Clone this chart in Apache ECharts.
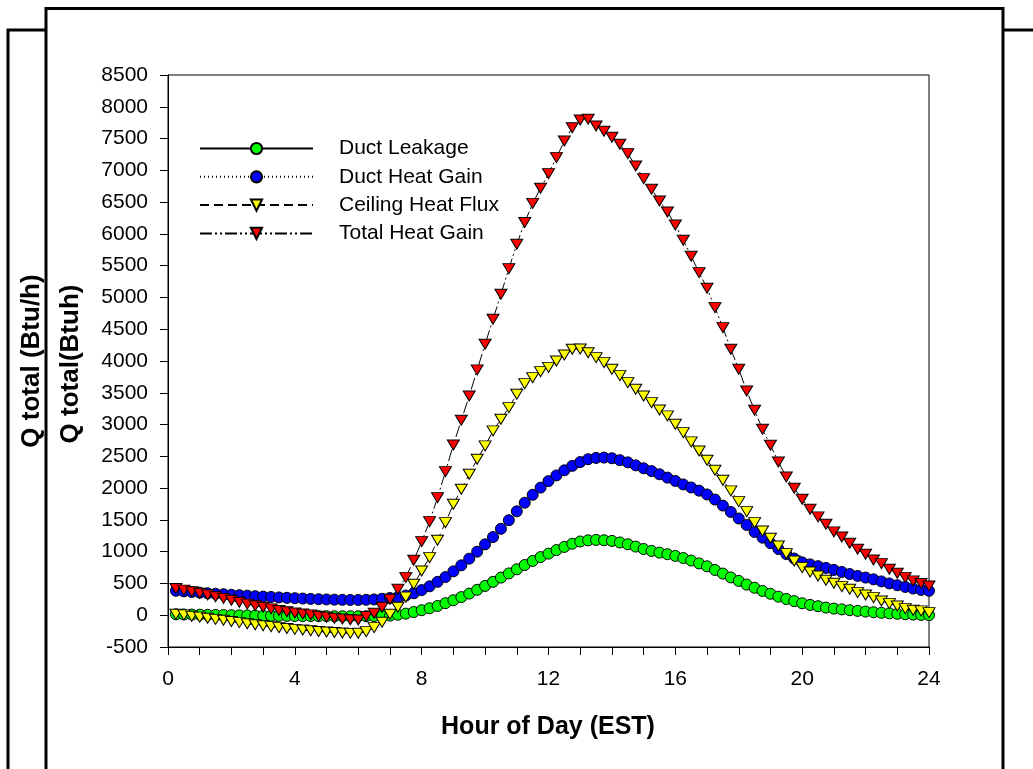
<!DOCTYPE html>
<html><head><meta charset="utf-8">
<script src="https://cdn.jsdelivr.net/npm/echarts@6/dist/echarts.min.js"></script>
<style>html,body{margin:0;padding:0;background:#fff}#c{width:1033px;height:769px}</style>
</head><body><div id="c"></div>
<script>
const hours = [
  0.25,0.5,0.75,1,1.25,1.5,1.75,2, 2.25,2.5,2.75,3,3.25,3.5,3.75,4,
  4.25,4.5,4.75,5,5.25,5.5,5.75,6, 6.25,6.5,6.75,7,7.25,7.5,7.75,8,
  8.25,8.5,8.75,9,9.25,9.5,9.75,10, 10.25,10.5,10.75,11,11.25,11.5,11.75,12,
  12.25,12.5,12.75,13,13.25,13.5,13.75,14, 14.25,14.5,14.75,15,15.25,15.5,15.75,16,
  16.25,16.5,16.75,17,17.25,17.5,17.75,18, 18.25,18.5,18.75,19,19.25,19.5,19.75,20,
  20.25,20.5,20.75,21,21.25,21.5,21.75,22, 22.25,22.5,22.75,23,23.25,23.5,23.75,24
];
const ductLeakage = [
  15,12,10,8,6,4,2,0, -2,-4,-6,-8,-9,-10,-11,-12,
  -13,-14,-15,-15,-16,-16,-16,-16, -15,-14,-12,-6,8,25,50,79,
  110,146,190,236,285,340,400,461, 525,592,658,723,790,854,915,969,
  1025,1075,1125,1160,1178,1185,1180,1169, 1145,1117,1080,1042,1012,985,960,933,
  900,860,815,770,712,655,595,540, 482,432,382,338,292,255,222,188,
  162,142,120,104,92,79,68,57, 47,38,30,22,16,10,5,2
];
const ductHeatGain = [
  385,375,365,355,345,338,330,322, 315,308,300,293,287,280,274,268,
  262,257,252,248,245,242,240,240, 242,248,258,270,285,310,345,395,
  455,525,600,690,785,890,1000,1115, 1230,1360,1495,1635,1770,1895,2008,2110,
  2200,2280,2350,2410,2455,2475,2480,2470, 2440,2405,2358,2312,2268,2218,2165,2113,
  2058,2010,1960,1900,1820,1725,1625,1522, 1420,1310,1220,1133,1042,962,892,832,
  800,772,744,713,681,648,618,592, 565,532,500,472,445,420,398,384
];
const ceilingHeatFlux = [
  16,5,-15,-30,-47,-65,-80,-100, -116,-135,-150,-165,-180,-195,-210,-222,
  -233,-245,-255,-265,-272,-280,-285,-283, -258,-195,-110,16,125,285,488,697,
  906,1180,1457,1746,1982,2218,2454,2664, 2900,3084,3266,3477,3644,3738,3833,3900,
  4001,4095,4185,4190,4131,4053,3974,3870, 3770,3660,3556,3450,3345,3230,3136,3005,
  2873,2727,2585,2439,2281,2124,1956,1788, 1630,1457,1326,1211,1090,969,854,749,
  681,618,551,503,450,409,356,319, 277,225,183,146,104,79,68,41
];
const totalHeatGain = [
  420,395,370,345,320,290,265,235, 205,175,150,125,100,75,55,35,
  20,5,-15,-30,-47,-60,-72,-75, -20,30,125,252,409,592,865,1158,
  1473,1850,2259,2679,3068,3450,3860,4264, 4657,5050,5453,5837,6180,6480,6718,6948,
  7200,7462,7671,7793,7804,7698,7615,7520, 7410,7263,7069,6869,6702,6518,6345,6141,
  5900,5648,5390,5145,4840,4525,4185,3870, 3529,3225,2926,2675,2412,2176,1998,1825,
  1668,1547,1432,1311,1230,1133,1038,960, 870,812,724,661,592,540,500,461
];
const seriesNames = ['Duct Leakage','Duct Heat Gain','Ceiling Heat Flux','Total Heat Gain'];
const xTickLabels = [0,4,8,12,16,20,24];
const xTitle = 'Hour of Day (EST)';
const yTitles = ['Q total (Btu/h)','Q total(Btuh)'];

const FONT = '"Liberation Sans", Arial, sans-serif';
function pairs(vals){ return hours.map((h,i)=>[h, vals[i]]); }

const chart = echarts.init(document.getElementById('c'), null, {renderer:'canvas'});
function mkSeries(name, vals, symbol, size, rotate, fill, dash){
  return {
    name, type:'line', data:pairs(vals), symbol, symbolSize:size, symbolRotate:rotate,
    showAllSymbol:true, animation:false,
    lineStyle:{color:'#000', width:1, type:dash},
    itemStyle:{color:fill, borderColor:'#000', borderWidth:1},
    emphasis:{disabled:true}
  };
}
const frame = {stroke:'#000', lineWidth:3, fill:null};
chart.setOption({
  animation:false,
  backgroundColor:'#fff',
  grid:{left:168, right:104, top:75, bottom:122, show:true, borderColor:'#000', borderWidth:1, backgroundColor:'transparent'},
  legend:{
    orient:'vertical', left:194, top:133, itemWidth:113, itemHeight:14, itemGap:7.3,
    selectedMode:false, data:seriesNames,
    textStyle:{fontFamily:FONT, fontSize:21, color:'#000', padding:[0,0,0,21]}
  },
  xAxis:{
    type:'value', min:0, max:24, interval:1,
    axisLine:{show:true, onZero:false, lineStyle:{color:'#000', width:1}},
    axisTick:{show:true, length:8, lineStyle:{color:'#000', width:1}},
    axisLabel:{fontFamily:FONT, fontSize:21, color:'#000', margin:22,
      formatter:v=> xTickLabels.indexOf(v)>=0 ? String(v) : ''},
    splitLine:{show:false}
  },
  yAxis:{
    type:'value', min:-500, max:8500, interval:500,
    axisLine:{show:true, onZero:false, lineStyle:{color:'#000', width:1}},
    axisTick:{show:true, length:8, lineStyle:{color:'#000', width:1}},
    axisLabel:{fontFamily:FONT, fontSize:21, color:'#000', margin:20, formatter:v=>String(v)},
    splitLine:{show:false}
  },
  graphic:[
    {type:'polyline', shape:{points:[[8,769],[8,30],[46,30]]}, style:frame, silent:true},
    {type:'polyline', shape:{points:[[46,769],[46,8.5],[1003,8.5],[1003,769]]}, style:frame, silent:true},
    {type:'polyline', shape:{points:[[1003,30],[1033,30]]}, style:frame, silent:true},
    {type:'text', x:32, y:361, rotation:Math.PI/2,
      style:{text:yTitles[0], font:'bold 26px '+FONT, fill:'#000', align:'center', verticalAlign:'middle'}},
    {type:'text', x:71, y:364, rotation:Math.PI/2,
      style:{text:yTitles[1], font:'bold 26px '+FONT, fill:'#000', align:'center', verticalAlign:'middle'}},
    {type:'text', x:548, y:727,
      style:{text:xTitle, font:'bold 25px '+FONT, fill:'#000', align:'center', verticalAlign:'middle'}}
  ],
  series:[
    mkSeries(seriesNames[0], ductLeakage, 'circle', 11, 0, '#00ff00', 'solid'),
    mkSeries(seriesNames[1], ductHeatGain, 'circle', 11, 0, '#0000ff', [1,3]),
    mkSeries(seriesNames[2], ceilingHeatFlux, 'triangle', [12,10], 180, '#ffff00', [9,5]),
    mkSeries(seriesNames[3], totalHeatGain, 'triangle', [12,10], 180, '#ff0000', [12,3,2,3,2,3])
  ]
});
</script></body></html>
